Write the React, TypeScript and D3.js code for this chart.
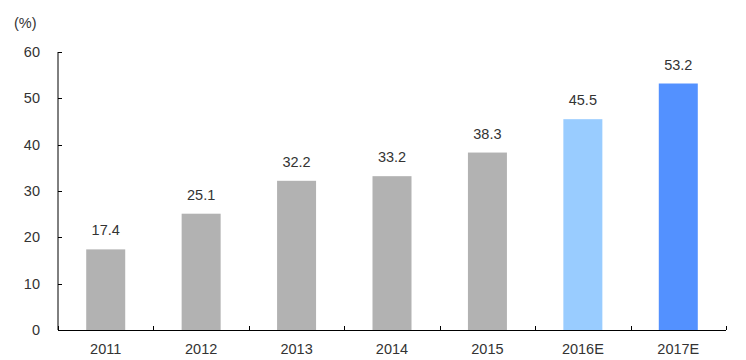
import React from "react";
import * as d3 from "d3";

const categories = ["2011", "2012", "2013", "2014", "2015", "2016E", "2017E"];
const values = [17.4, 25.1, 32.2, 33.2, 38.3, 45.5, 53.2];
const barColors = ["#b2b2b2", "#b2b2b2", "#b2b2b2", "#b2b2b2", "#b2b2b2", "#99ccff", "#5391ff"];
const yTicks = [0, 10, 20, 30, 40, 50, 60];
const unitLabel = "(%)";

export default function App() {
  const W = 746, H = 360;
  const left = 58, right = 726, top = 52, bottom = 330;
  const x = d3.scaleBand<string>().domain(categories).range([left, right]).paddingInner(0).paddingOuter(0);
  const y = d3.scaleLinear().domain([0, 60]).range([bottom, top]);
  const barW = 39;
  const font = "'Liberation Sans', Arial, sans-serif";
  const fs = 14.5;
  const tc = "#333";
  const boundaries = d3.range(categories.length + 1).map((i) => left + i * x.bandwidth());
  return (
    <svg width={W} height={H} style={{ position: "absolute", left: 0, top: 0, background: "#fff" }}>
      <text x={14} y={28} fontFamily={font} fontSize={fs} fill={tc}>{unitLabel}</text>
      {values.map((v, i) => {
        const cx = (x(categories[i]) as number) + x.bandwidth() / 2;
        return (
          <g key={i}>
            <rect x={cx - barW / 2} y={y(v)} width={barW} height={bottom - y(v)} fill={barColors[i]} />
            <text x={cx} y={y(v) - 14} textAnchor="middle" fontFamily={font} fontSize={fs} fill={tc}>{v.toFixed(1)}</text>
            <text x={cx} y={bottom + 24} textAnchor="middle" fontFamily={font} fontSize={fs} fill={tc}>{categories[i]}</text>
          </g>
        );
      })}
      <line x1={left} x2={left} y1={top} y2={bottom} stroke="#000" strokeWidth={1} />
      {yTicks.map((t) => (
        <g key={t}>
          <line x1={left} x2={left + 4} y1={Math.round(y(t)) + 0.5} y2={Math.round(y(t)) + 0.5} stroke="#000" />
          <text x={40} y={y(t) + 5} textAnchor="end" fontFamily={font} fontSize={fs} fill={tc}>{t}</text>
        </g>
      ))}
      <line x1={left} x2={right} y1={bottom + 0.5} y2={bottom + 0.5} stroke="#000" strokeWidth={1} />
      {boundaries.map((b, i) => (
        <line key={i} x1={Math.round(b) + 0.5} x2={Math.round(b) + 0.5} y1={bottom} y2={bottom - 4} stroke="#000" />
      ))}
    </svg>
  );
}
